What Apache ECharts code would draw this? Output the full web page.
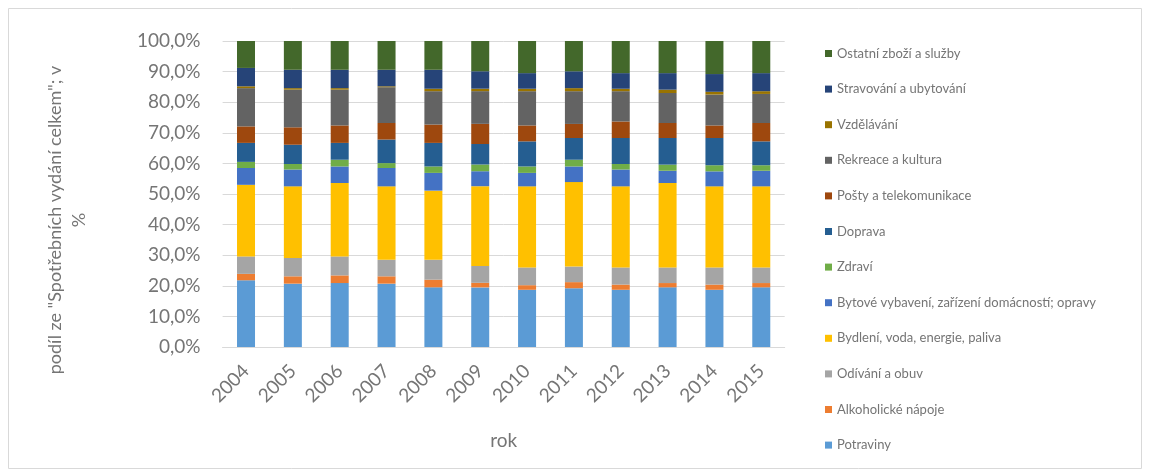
<!DOCTYPE html>
<html>
<head>
<meta charset="utf-8">
<script src="https://cdn.jsdelivr.net/npm/echarts@6/dist/echarts.min.js"></script>
<style>
html,body{margin:0;padding:0;background:#fff;}
#chart{width:1149px;height:476px;}
</style>
</head>
<body>
<div id="chart"></div>
<script>
const years = ['2004','2005','2006','2007','2008','2009','2010','2011','2012','2013','2014','2015'];
const yTicks = [0,10,20,30,40,50,60,70,80,90,100];

const potraviny   = [21.8,20.7,20.9,20.7,19.5,19.5,18.7,19.2,18.7,19.5,18.7,19.5];
const alkohol     = [2.1,2.4,2.5,2.4,2.5,1.5,1.5,2.0,1.7,1.4,1.7,1.4];
const odivani     = [5.7,6.0,6.2,5.4,6.5,5.5,5.8,5.1,5.6,5.1,5.6,5.1];
const bydleni     = [23.4,23.4,24.0,24.0,22.6,26.1,26.5,27.6,26.5,27.6,26.5,26.5];
const bytove      = [5.5,5.5,5.4,6.0,5.8,4.9,4.4,5.1,5.5,4.0,4.9,5.1];
const zdravi      = [2.0,1.8,2.2,1.6,2.1,2.2,2.1,2.2,1.8,2.0,2.0,1.8];
const doprava     = [6.2,6.3,5.5,7.7,7.7,6.7,8.2,7.1,8.5,8.7,8.9,7.8];
const posty       = [5.4,5.7,5.7,5.4,6.0,6.6,5.2,4.6,5.4,4.9,4.1,6.0];
const rekreace    = [12.5,12.3,11.7,11.7,10.9,10.7,11.2,10.7,9.9,9.8,10.1,9.5];
const vzdelavani  = [0.6,0.5,0.5,0.3,0.8,0.8,0.8,1.0,0.8,1.1,0.9,0.9];
const stravovani  = [6.0,6.0,6.0,5.4,6.2,5.7,5.1,5.5,5.1,5.4,5.8,5.9];
const ostatni     = [8.8,9.4,9.4,9.4,9.4,9.9,10.5,9.9,10.5,10.5,10.8,10.5];

const seriesNames = [
  'Potraviny','Alkoholické nápoje','Odívání a obuv','Bydlení, voda, energie, paliva',
  'Bytové vybavení, zařízení domácností; opravy','Zdraví','Doprava','Pošty a telekomunikace',
  'Rekreace a kultura','Vzdělávání','Stravování a ubytování','Ostatní zboží a služby'
];
const seriesValues = [potraviny,alkohol,odivani,bydleni,bytove,zdravi,doprava,posty,rekreace,vzdelavani,stravovani,ostatni];
const colors = ['#5B9BD5','#ED7D31','#A5A5A5','#FFC000','#4472C4','#70AD47','#255E91','#9E480E','#636363','#997300','#264478','#43682B'];

// 100% stacked: normalise each year to its total
const totals = years.map((_, i) => seriesValues.reduce((s, arr) => s + arr[i], 0));

const textColor = '#757575';
const fontFam = 'Lato, "Open Sans", sans-serif';

const chart = echarts.init(document.getElementById('chart'), null, {renderer:'canvas'});
chart.setOption({
  animation: false,
  color: colors,
  grid: {left: 222.6, right: 364.3, top: 41, bottom: 129, containLabel: false},
  legend: {
    orient: 'vertical',
    left: 820, top: 40.5,
    icon: 'rect', itemWidth: 7, itemHeight: 7, itemGap: 19.6,
    data: seriesNames.slice().reverse(),
    textStyle: {fontFamily: fontFam, fontSize: 13, lineHeight: 16, color: textColor},
    selectedMode: false
  },
  xAxis: {
    type: 'category',
    data: years,
    axisTick: {show: false},
    axisLine: {lineStyle: {color: '#d9d9d9', width: 1}},
    axisLabel: {rotate: 45, margin: 21, fontFamily: fontFam, fontSize: 19, color: textColor},
    name: 'rok', nameLocation: 'middle', nameGap: 84,
    nameTextStyle: {fontFamily: fontFam, fontSize: 19, color: textColor}
  },
  yAxis: {
    type: 'value', min: 0, max: 100, interval: 10,
    axisLine: {show: false}, axisTick: {show: false},
    splitLine: {lineStyle: {color: '#d9d9d9', width: 1}},
    axisLabel: {
      margin: 22, fontFamily: fontFam, fontSize: 19, color: textColor,
      formatter: v => v.toFixed(1).replace('.', ',') + '%'
    }
  },
  graphic: [
    {
      type: 'rect', silent: true, z: -1,
      shape: {x: 8.5, y: 8.5, width: 1133, height: 460},
      style: {fill: 'none', stroke: '#d9d9d9', lineWidth: 1}
    },
    {
      type: 'text', x: 67, y: 220, rotation: Math.PI / 2,
      style: {
        text: 'podíl ze "Spotřebních vydání celkem"; v\n%',
        align: 'center', verticalAlign: 'middle',
        font: '18px Lato, "Open Sans", sans-serif', lineHeight: 24,
        fill: textColor
      }
    }
  ],
  series: seriesNames.map((name, k) => ({
    name: name,
    type: 'bar',
    stack: 'total',
    barWidth: 18,
    data: seriesValues[k].map((v, i) => v / totals[i] * 100)
  }))
});
</script>
</body>
</html>
